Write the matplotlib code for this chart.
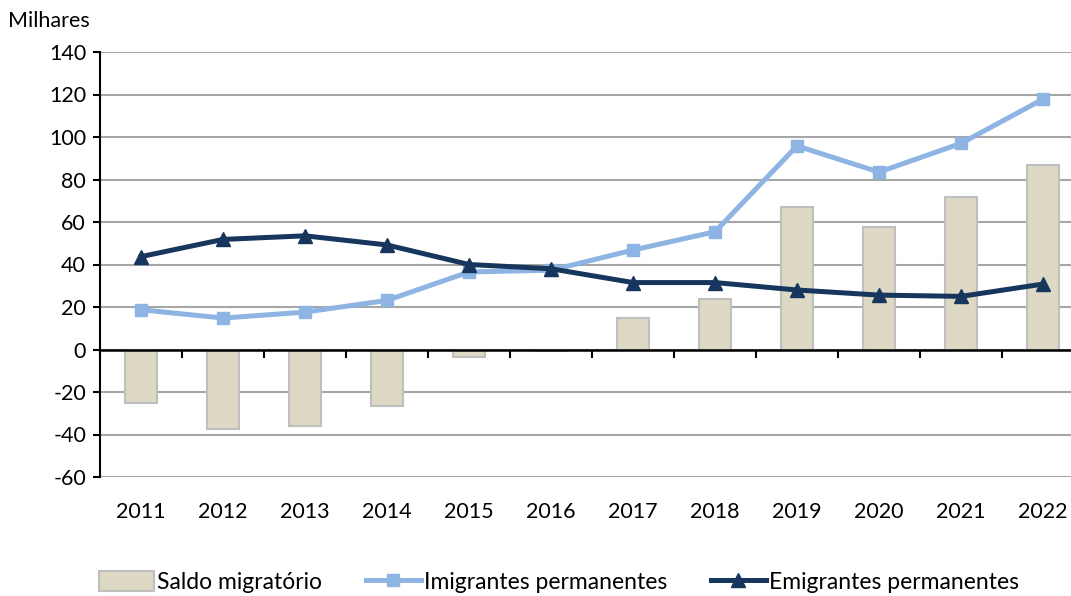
import matplotlib
matplotlib.use("Agg")
import matplotlib.pyplot as plt
from matplotlib.patches import Patch
from matplotlib.lines import Line2D
import numpy as np

years = ["2011", "2012", "2013", "2014", "2015", "2016", "2017", "2018", "2019", "2020", "2021", "2022"]
saldo = [-25.3, -37.5, -36.0, -26.7, -3.6, -0.7, 14.8, 23.7, 67.0, 57.7, 72.0, 86.8]
imigrantes = [18.7, 14.8, 17.6, 23.1, 36.5, 37.3, 46.8, 55.4, 95.8, 83.5, 97.0, 117.8]
emigrantes = [43.7, 51.8, 53.5, 49.2, 40.0, 38.0, 31.5, 31.5, 28.0, 25.6, 25.0, 30.8]
yticks = [-60, -40, -20, 0, 20, 40, 60, 80, 100, 120, 140]

plt.rcParams['font.family'] = ['Lato', 'DejaVu Sans']

W, H = 1071, 596
fig = plt.figure(figsize=(W / 100, H / 100), dpi=100)
ax = fig.add_axes([100 / W, (H - 477) / H, 984 / W, (477 - 52) / H])

x = np.arange(len(years))
bar_c = '#DDD9C4'
imi_c = '#8DB4E2'
emi_c = '#17365D'
FS = 15.5

ax.set_ylim(-60, 140)
ax.set_xlim(-0.5, len(years) - 0.5)
ax.set_yticks(yticks)
ax.set_yticklabels([str(v) for v in yticks], fontsize=FS)
ax.yaxis.grid(True, color='#A6A6A6', linewidth=1.5, zorder=0)
ax.set_axisbelow(True)

ax.bar(x, saldo, width=0.4, color=bar_c, edgecolor='#BFBFBF', linewidth=1.5, zorder=2)
ax.axhline(0, color='black', linewidth=1.8, zorder=3)
ax.plot(x, imigrantes, color=imi_c, linewidth=3.6, marker='s', markersize=8.5, zorder=4)
ax.plot(x, emigrantes, color=emi_c, linewidth=3.6, marker='^', markersize=9.5, zorder=5)

for s in ['top', 'right', 'bottom']:
    ax.spines[s].set_visible(False)
ax.spines['left'].set_linewidth(1.5)
ax.tick_params(axis='y', direction='out', length=5, width=1.5, pad=5, colors='black')
ax.set_xticks(x)
ax.set_xticklabels(years, fontsize=FS)
ax.tick_params(axis='x', length=0, pad=18)

# boundary ticks on the zero line
zero_frac = (0 - (-60)) / (140 - (-60))
sec = ax.secondary_xaxis(zero_frac)
sec.set_xticks(np.arange(-0.5, len(years), 1.0))
sec.set_xticklabels([])
sec.tick_params(direction='out', length=6, width=1.5)
sec.spines['bottom'].set_visible(False)

fig.text(8 / W, 1 - 21 / H, 'Milhares', fontsize=FS, ha='left', va='center')

handles = [
    Patch(facecolor=bar_c, edgecolor='#BFBFBF', linewidth=1.5),
    Line2D([], [], color=imi_c, linewidth=3.6, marker='s', markersize=8.5),
    Line2D([], [], color=emi_c, linewidth=3.6, marker='^', markersize=9.5),
]
labels = ['Saldo migratório', 'Imigrantes permanentes', 'Emigrantes permanentes']
fig.legend(handles, labels, loc='center', bbox_to_anchor=(559 / W, 1 - 582 / H), ncol=3,
           frameon=False, fontsize=16.5, handlelength=2.4, handletextpad=0.15, columnspacing=1.9,
           handleheight=1.0)

fig.savefig('out.png', dpi=100)
